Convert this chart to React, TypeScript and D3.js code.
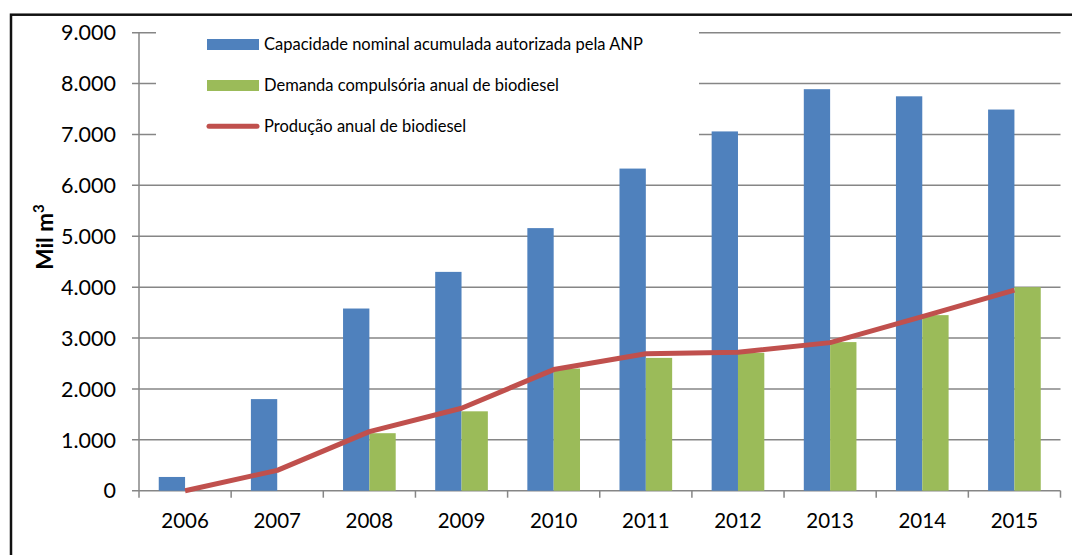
import React from "react";
import * as d3 from "d3";

const years = ["2006", "2007", "2008", "2009", "2010", "2011", "2012", "2013", "2014", "2015"];
const capacidade = [270, 1800, 3580, 4300, 5160, 6330, 7060, 7890, 7750, 7490];
const demanda = [null, null, 1130, 1560, 2400, 2610, 2710, 2920, 3450, 4000];
const producao = [0, 400, 1160, 1620, 2380, 2690, 2720, 2910, 3420, 3940];
const yTicks = [0, 1000, 2000, 3000, 4000, 5000, 6000, 7000, 8000, 9000];
const legendLabels = [
  "Capacidade nominal acumulada autorizada pela ANP",
  "Demanda compulsória anual de biodiesel",
  "Produção anual de biodiesel",
];

const W = 1072;
const H = 555;
const BLUE = "#4F81BD";
const GREEN = "#9BBB59";
const RED = "#C0504D";
const GRID = "#868686";
const FONT = "Lato, 'Open Sans', sans-serif";

export default function App() {
  const left = 139;
  const right = 1060.5;
  const top = 32.7;
  const bottom = 490.7;

  const x = d3.scaleBand<string>().domain(years).range([left, right]).paddingInner(0).paddingOuter(0);
  const y = d3.scaleLinear().domain([0, 9000]).range([bottom, top]);
  const bw = x.bandwidth() / 3.5;
  const fmt = (v: number) => d3.format(",")(v).replace(/,/g, ".");

  const line = d3
    .line<number>()
    .x((_, i) => (x(years[i]) as number) + x.bandwidth() / 2)
    .y((d) => y(d));

  return (
    <svg
      width={W}
      height={H}
      style={{ position: "absolute", left: 0, top: 0, background: "#fff" }}
      fontFamily={FONT}
    >
      <rect x={0} y={0} width={W} height={H} fill="#fff" />
      {/* outer frame */}
      <rect x={11} y={14.7} width={W + 20} height={H + 20} fill="none" stroke="#111" strokeWidth={2.5} />

      {/* gridlines */}
      {yTicks.map((t) => (
        <line key={"g" + t} x1={left - 7} x2={right} y1={y(t)} y2={y(t)} stroke={GRID} strokeWidth={1.5} />
      ))}

      {/* y axis */}
      <line x1={left} x2={left} y1={top} y2={bottom} stroke={GRID} strokeWidth={1.5} />
      {/* x axis ticks */}
      {years.concat(["end"]).map((yr, i) => {
        const xx = left + i * x.step();
        return <line key={"xt" + i} x1={xx} x2={xx} y1={bottom} y2={bottom + 7} stroke={GRID} strokeWidth={1.5} />;
      })}

      {/* bars */}
      {years.map((yr, i) => {
        const cx = (x(yr) as number) + x.bandwidth() / 2;
        const d = demanda[i];
        return (
          <g key={"b" + yr}>
            <rect x={cx - bw} y={y(capacidade[i])} width={bw} height={bottom - y(capacidade[i])} fill={BLUE} />
            {d != null && <rect x={cx} y={y(d)} width={bw} height={bottom - y(d)} fill={GREEN} />}
          </g>
        );
      })}

      {/* line */}
      <path d={line(producao) as string} fill="none" stroke={RED} strokeWidth={5} strokeLinejoin="round" />

      {/* legend box */}
      <rect x={156} y={24} width={543} height={136} fill="#fff" />
      <rect x={207} y={39} width={52} height={11} fill={BLUE} />
      <rect x={207} y={80} width={52} height={11} fill={GREEN} />
      <line x1={209} x2={257} y1={126.3} y2={126.3} stroke={RED} strokeWidth={5} strokeLinecap="round" />
      {legendLabels.map((l, i) => (
        <text key={l} x={264} y={[44.5, 85.5, 126.3][i]} dy="0.35em" fontSize={16.5} fill="#000">
          {l}
        </text>
      ))}

      {/* y tick labels */}
      {yTicks.map((t) => (
        <text key={"yl" + t} x={116} y={y(t)} dy="0.36em" textAnchor="end" fontSize={21.5} fill="#000">
          {fmt(t)}
        </text>
      ))}

      {/* x labels */}
      {years.map((yr) => (
        <text
          key={"xl" + yr}
          x={(x(yr) as number) + x.bandwidth() / 2}
          y={521}
          dy="0.36em"
          textAnchor="middle"
          fontSize={20.5}
          fill="#000"
        >
          {yr}
        </text>
      ))}

      {/* y axis title */}
      <text
        transform="translate(53,237) rotate(-90)"
        textAnchor="middle"
        fontSize={22.5}
        fontWeight="bold"
        fill="#000"
      >
        Mil m<tspan dy="-9" fontSize={15}>3</tspan>
      </text>
    </svg>
  );
}
